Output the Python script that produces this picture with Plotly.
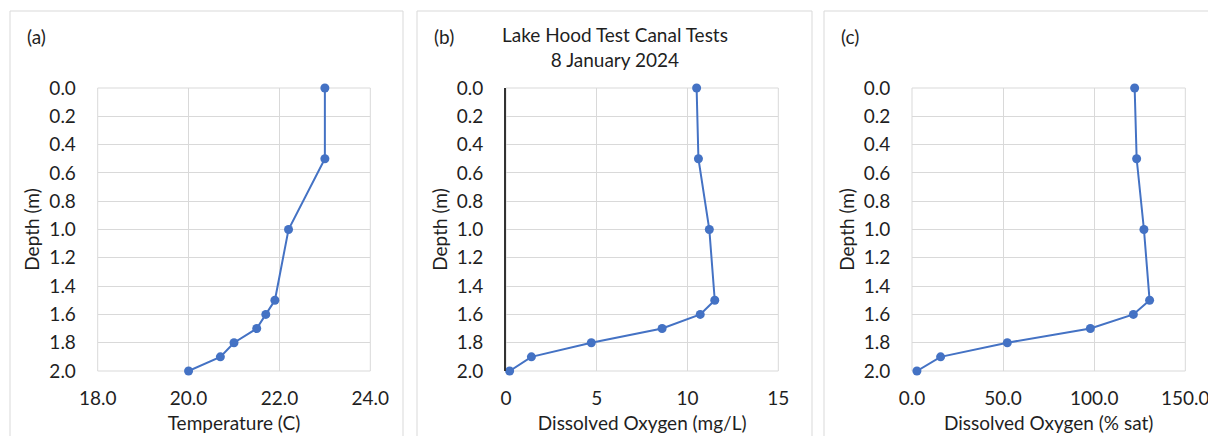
import plotly.graph_objects as go

# Depth profiles, Lake Hood test canal, 8 January 2024
depth_m = [0.0, 0.5, 1.0, 1.5, 1.6, 1.7, 1.8, 1.9, 2.0]
temperature_c = [23.0, 23.0, 22.2, 21.9, 21.7, 21.5, 21.0, 20.7, 20.0]
do_mg_l = [10.5, 10.6, 11.2, 11.5, 10.7, 8.6, 4.7, 1.4, 0.2]
do_pct_sat = [122.2, 123.3, 127.3, 130.4, 121.5, 97.9, 52.3, 15.7, 2.7]

panel_labels = ["(a)", "(b)", "(c)"]
x_titles = ["Temperature (C)", "Dissolved Oxygen (mg/L)", "Dissolved Oxygen (% sat)"]
y_title = "Depth (m)"
chart_title = "Lake Hood Test Canal Tests<br>8 January 2024"

W, H = 1208, 436
FONT = "Lato, 'Open Sans', sans-serif"
FS = 19
TXT = "#1f1f1f"
GRID = "#d9d9d9"
BLUE = "#4472c4"

# plot-area pixel boxes and outer panel frames
plot_px = [(97.7, 370.3), (506.0, 778.3), (912.0, 1185.3)]
frame_px = [(10, 403), (417, 812), (824, 1215)]
top_px, bot_px = 88, 371
frame_top = 11

x_ranges = [[18, 24], [0, 15], [0, 150]]
x_dticks = [2, 5, 50]
x_formats = [".1f", "d", ".1f"]
series = [temperature_c, do_mg_l, do_pct_sat]

fig = go.Figure()

def px2x(p):
    return p / W

def px2y(p):
    return 1 - p / H

for i in range(3):
    sfx = "" if i == 0 else str(i + 1)
    fig.add_trace(go.Scatter(
        x=series[i], y=depth_m, mode="lines+markers",
        line=dict(color=BLUE, width=2),
        marker=dict(color=BLUE, size=9),
        cliponaxis=False,
        xaxis="x" + sfx, yaxis="y" + sfx, showlegend=False,
        hoverinfo="x+y",
    ))
    x0, x1 = plot_px[i]
    fig.update_layout(**{
        "xaxis" + sfx: dict(
            domain=[px2x(x0), px2x(x1)], range=x_ranges[i], dtick=x_dticks[i],
            tick0=x_ranges[i][0], tickformat=x_formats[i],
            showgrid=True, gridcolor=GRID, gridwidth=1, zeroline=False,
            showline=False, ticks="outside", ticklen=10, tickcolor="rgba(0,0,0,0)",
            tickfont=dict(family=FONT, size=FS, color=TXT), ticklabeloverflow="allow",
            title=dict(text=x_titles[i], font=dict(family=FONT, size=FS, color=TXT), standoff=8),
            anchor="y" + sfx, fixedrange=True, automargin=False,
        ),
        "yaxis" + sfx: dict(
            domain=[px2y(bot_px), px2y(top_px)], range=[2, 0], dtick=0.2, tick0=0,
            tickformat=".1f",
            showgrid=True, gridcolor=GRID, gridwidth=1, zeroline=False,
            showline=(i == 1), linecolor="#333333", linewidth=2,
            ticks="outside", ticklen=17, tickcolor="rgba(0,0,0,0)",
            tickfont=dict(family=FONT, size=FS, color=TXT), ticklabeloverflow="allow",
            title=dict(text=y_title, font=dict(family=FONT, size=FS, color=TXT), standoff=4),
            anchor="x" + sfx, fixedrange=True, automargin=False,
        ),
    })
    # gridline box around the plot area
    fig.add_shape(type="rect", xref="x%s domain" % sfx, yref="y%s domain" % sfx,
                  x0=0, x1=1, y0=0, y1=1, line=dict(color=GRID, width=1),
                  fillcolor="rgba(0,0,0,0)", layer="below")
    # outer panel frame
    f0, f1 = frame_px[i]
    fig.add_shape(type="rect", xref="paper", yref="paper",
                  x0=px2x(f0), x1=px2x(f1), y0=-0.05, y1=px2y(frame_top),
                  line=dict(color=GRID, width=1), fillcolor="rgba(0,0,0,0)", layer="below")
    fig.add_annotation(text=panel_labels[i], xref="paper", yref="paper",
                       x=px2x(f0 + 15), y=px2y(37), xanchor="left", yanchor="middle",
                       showarrow=False, font=dict(family=FONT, size=FS, color=TXT))

fig.add_annotation(text=chart_title, xref="paper", yref="paper",
                   x=px2x(614.5), y=px2y(47), xanchor="center", yanchor="middle",
                   showarrow=False, align="center",
                   font=dict(family=FONT, size=FS, color=TXT))

fig.update_layout(width=W, height=H, margin=dict(l=0, r=0, t=0, b=0),
                  paper_bgcolor="white", plot_bgcolor="white")

fig.write_html("out.html")
